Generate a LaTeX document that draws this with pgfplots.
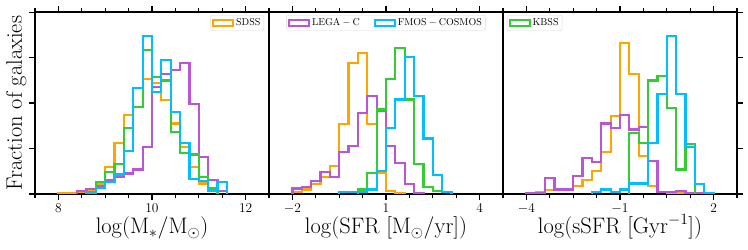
\RequirePackage{fix-cm}
\documentclass[border=0pt]{standalone}
\usepackage{pgfplots}
\pgfplotsset{compat=1.18}
\definecolor{cOr}{HTML}{FFA500}
\definecolor{cPu}{HTML}{BA55D3}
\definecolor{cCy}{HTML}{00BFFF}
\definecolor{cGr}{HTML}{32CD32}
\pgfplotsset{
 hstyle/.style={
  scale only axis, width=234bp, height=181.7bp,
  ymin=0, ymax=4, const plot,
  ytick={0,1,2,3,4}, yticklabel=\empty,
  tick align=outside,
  major tick length=6bp, minor tick length=4bp,
  every tick/.style={black, line width=1.3bp},
  axis line style={line width=2bp},
  xticklabel pos=lower,
  ticklabel style={font=\fontsize{13.5}{16}\selectfont},
  label style={font=\fontsize{22.5}{27}\selectfont},
  xlabel style={at={(axis description cs:0.5,-0.22)}, anchor=base},
  legend style={draw=black!15, rounded corners=2bp, inner sep=1.5bp, font=\fontsize{10}{12}\selectfont, cells={anchor=west}},
  legend image code/.code={\draw[#1, line width=2bp, sharp corners] (0bp,-3bp) rectangle (20bp,3bp);},
  every axis plot/.append style={line width=2.2bp, line join=miter},
 }
}
\begin{document}
\begin{tikzpicture}
% ---------- panel 1: stellar mass ----------
\begin{axis}[hstyle, at={(35bp,56bp)}, anchor=south west,
  xmin=7.5, xmax=12.5, xtick={8,10,12}, minor xtick={7.5,8,...,12.5},
  ytick pos=left,
  xlabel={$\log(\mathrm{M}_*/\mathrm{M}_\odot)$},
  ylabel={Fraction of galaxies},
  ylabel style={at={(axis description cs:-0.0556,0.5)}, anchor=base},
  legend style={at={(0.979,0.985)}, anchor=north east}]
\addplot[cOr] coordinates {(8.0,0)(8.0,0.015)(8.2,0.015)(8.4,0.04)(8.6,0.07)(8.8,0.22)(9.0,0.59)(9.2,1.12)(9.4,1.74)(9.6,2.33)(9.8,2.53)(10.0,2.44)(10.2,2.07)(10.4,1.55)(10.6,1.04)(10.8,0.60)(11.0,0.23)(11.2,0.07)(11.4,0.07)(11.4,0)};
\addlegendentry{SDSS}
\addplot[cPu, forget plot] coordinates {(8.4,0)(8.4,0.07)(8.6,0.11)(8.8,0.18)(9.0,0.30)(9.2,0.38)(9.4,0.45)(9.6,0.54)(9.8,1.04)(10.0,2.35)(10.2,2.65)(10.4,2.73)(10.6,2.88)(10.8,1.98)(11.0,0.82)(11.2,0.30)(11.4,0.07)(11.6,0.07)(11.6,0)};
\addplot[cGr, forget plot] coordinates {(8.6,0)(8.6,0.05)(8.8,0.27)(9.0,0.49)(9.2,0.66)(9.4,1.45)(9.6,1.92)(9.8,3.17)(10.0,2.57)(10.2,2.50)(10.4,1.36)(10.6,0.91)(10.8,0.87)(11.0,0.38)(11.2,0.12)(11.4,0.12)(11.4,0)};
\addplot[cCy, forget plot] coordinates {(8.6,0)(8.6,0.03)(8.8,0.13)(9.0,0.26)(9.2,0.43)(9.4,0.95)(9.6,2.34)(9.8,3.47)(10.0,2.25)(10.2,2.95)(10.4,1.81)(10.6,1.12)(10.8,0.33)(11.0,0.28)(11.2,0.06)(11.4,0.26)(11.6,0.26)(11.6,0)};
\end{axis}
% ---------- panel 2: SFR ----------
\begin{axis}[hstyle, at={(269bp,56bp)}, anchor=south west,
  xmin=-2.75, xmax=4.75, xtick={-2,1,4}, minor xtick={-2.75,-2,...,4.75},
  ytick=\empty,
  xlabel={$\log(\mathrm{SFR}\ [\mathrm{M}_\odot/\mathrm{yr}])$},
  legend columns=2,
  legend style={at={(0.5,0.985)}, anchor=north, /tikz/every even column/.append style={column sep=12bp}}]
\addplot[cOr, forget plot] coordinates {(-2.0,0)(-2.0,0.04)(-1.7,0.10)(-1.4,0.22)(-1.1,0.38)(-0.8,0.62)(-0.5,1.54)(-0.2,2.89)(0.1,3.11)(0.4,1.54)(0.7,0.46)(1.0,0.07)(1.3,0.02)(1.6,0.02)(1.6,0)};
\addplot[cPu] coordinates {(-2.0,0)(-2.0,0.12)(-1.7,0.16)(-1.4,0.29)(-1.1,0.48)(-0.8,0.38)(-0.5,0.92)(-0.2,1.05)(0.1,1.78)(0.4,2.16)(0.7,1.84)(1.0,1.05)(1.3,0.69)(1.6,0.22)(1.9,0.03)(2.2,0.03)(2.2,0)};
\addlegendentry{$\mathrm{LEGA-C}$}
\addplot[cGr, forget plot] coordinates {(0.1,0)(0.1,0.10)(0.4,0.47)(0.7,1.86)(1.0,2.54)(1.3,3.21)(1.6,2.08)(1.9,0.66)(2.2,0.15)(2.5,0.07)(2.8,0.05)(3.1,0.05)(3.1,0)};
\addplot[cCy] coordinates {(-0.5,0)(-0.5,0.04)(-0.2,0.04)(0.1,0.05)(0.4,0.10)(0.7,0.50)(1.0,1.45)(1.3,2.08)(1.6,3.02)(1.9,2.15)(2.2,1.22)(2.5,0.41)(2.8,0.04)(3.1,0.04)(3.1,0)};
\addlegendentry{$\mathrm{FMOS-COSMOS}$}
\end{axis}
% ---------- panel 3: sSFR ----------
\begin{axis}[hstyle, at={(503bp,56bp)}, anchor=south west,
  xmin=-4.75, xmax=2.75, xtick={-4,-1,2}, minor xtick={-4.75,-4,...,2.75},
  ytick pos=right,
  xlabel={$\log(\mathrm{sSFR}\ [\mathrm{Gyr}^{-1}])$},
  legend style={at={(0.017,0.985)}, anchor=north west}]
\addplot[cOr, forget plot] coordinates {(-4.0,0)(-4.0,0.02)(-3.7,0.05)(-3.4,0.08)(-3.1,0.10)(-2.8,0.11)(-2.5,0.18)(-2.2,0.30)(-1.9,0.50)(-1.6,0.92)(-1.3,1.72)(-1.0,3.33)(-0.7,2.65)(-0.4,0.84)(-0.1,0.17)(0.2,0.05)(0.5,0.03)(0.8,0.02)(1.1,0.02)(1.1,0)};
\addplot[cPu, forget plot] coordinates {(-4.0,0)(-4.0,0.02)(-3.7,0.03)(-3.4,0.36)(-3.1,0.10)(-2.8,0.10)(-2.5,0.40)(-2.2,0.80)(-1.9,0.71)(-1.6,1.55)(-1.3,1.46)(-1.0,1.74)(-0.7,1.42)(-0.4,1.48)(-0.1,0.72)(0.2,0.05)(0.5,0.04)(0.8,0.07)(1.1,0.03)(1.4,0.02)(1.7,0.03)(2.0,0.03)(2.0,0)};
\addplot[cGr] coordinates {(-0.7,0)(-0.7,1.35)(-0.4,1.13)(-0.1,2.50)(0.2,2.60)(0.5,1.89)(0.8,0.54)(1.1,1.10)(1.4,1.10)(1.4,0)};
\addlegendentry{KBSS}
\addplot[cCy, forget plot] coordinates {(-1.9,0)(-1.9,0.04)(-1.6,0.10)(-1.3,0.05)(-1.0,0.10)(-0.7,0.23)(-0.4,0.23)(-0.1,1.13)(0.2,2.20)(0.5,3.48)(0.8,2.20)(1.1,1.04)(1.4,0.22)(1.7,0.03)(2.0,0.03)(2.0,0)};
\end{axis}
\pgfresetboundingbox
\path (0,0) rectangle (748bp,250bp);
\end{tikzpicture}
\end{document}
